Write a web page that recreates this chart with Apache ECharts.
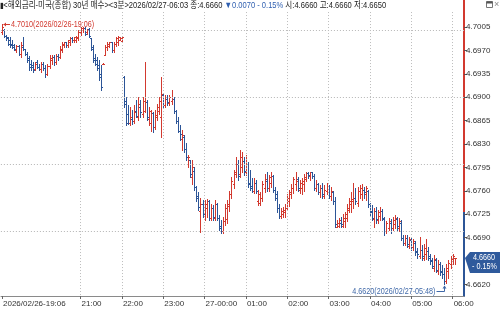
<!DOCTYPE html>
<html><head><meta charset="utf-8">
<script src="https://cdn.jsdelivr.net/npm/echarts@6/dist/echarts.min.js"></script>
<style>html,body{margin:0;padding:0;background:#fff}#c{width:500px;height:314px}</style>
</head><body><div id="c"></div>
<script>
// ---- data (3-minute bars, 2026/02/26 19:06 .. 2026/02/27 06:03) ----
const opens = [
4.6998,4.7000,4.6992,4.6990,4.6985,4.6980,4.6978,4.6970,4.6976,4.6965,
4.6975,4.6972,4.6965,4.6958,4.6950,4.6948,4.6942,4.6952,4.6945,4.6942,
4.6950,4.6943,4.6935,4.6946,4.6956,4.6960,4.6953,4.6962,4.6960,4.6970,
4.6978,4.6982,4.6978,4.6982,4.6988,4.6985,4.6985,4.6988,4.6998,4.7000,
4.7004,4.6998,4.7002,4.6988,4.6975,4.6958,4.6955,4.6948,4.6935,4.6950,
4.6963,4.6975,4.6976,4.6982,4.6970,4.6980,4.6983,4.6986,4.6984,4.6930,
4.6895,4.6875,4.6862,4.6868,4.6865,4.6880,4.6870,4.6885,4.6875,4.6880,
4.6893,4.6868,4.6862,4.6876,4.6855,4.6870,4.6880,4.6870,4.6903,4.6888,
4.6898,4.6892,4.6895,4.6898,4.6880,4.6865,4.6850,4.6838,4.6840,4.6822,
4.6800,4.6806,4.6780,4.6790,4.6766,4.6752,4.6730,4.6740,4.6722,4.6735,
4.6745,4.6720,4.6735,4.6720,4.6740,4.6720,4.6708,4.6700,4.6715,4.6718,
4.6738,4.6755,4.6770,4.6785,4.6800,4.6785,4.6795,4.6805,4.6788,4.6800,
4.6772,4.6768,4.6760,4.6772,4.6745,4.6742,4.6750,4.6765,4.6775,4.6765,
4.6772,4.6782,4.6762,4.6755,4.6735,4.6722,4.6725,4.6728,4.6735,4.6745,
4.6755,4.6765,4.6770,4.6778,4.6762,4.6765,4.6770,4.6778,4.6786,4.6782,
4.6788,4.6782,4.6765,4.6770,4.6758,4.6765,4.6752,4.6760,4.6768,4.6752,
4.6758,4.6745,4.6706,4.6708,4.6712,4.6708,4.6715,4.6720,4.6732,4.6740,
4.6745,4.6750,4.6742,4.6760,4.6755,4.6762,4.6755,4.6760,4.6740,4.6730,
4.6718,4.6730,4.6716,4.6722,4.6730,4.6718,4.6700,4.6705,4.6712,4.6705,
4.6710,4.6718,4.6705,4.6712,4.6690,4.6682,4.6690,4.6678,4.6686,4.6676,
4.6682,4.6670,4.6662,4.6672,4.6660,4.6665,4.6670,4.6662,4.6656,4.6645,
4.6656,4.6640,4.6650,4.6640,4.6635,4.6625,4.6640,4.6650,4.6655,4.6660];
const highs = [
4.7010,4.7002,4.6993,4.6990,4.6990,4.6985,4.6980,4.6978,4.6978,4.6983,
4.6990,4.6972,4.6968,4.6962,4.6955,4.6953,4.6953,4.6956,4.6950,4.6953,
4.6953,4.6948,4.6950,4.6963,4.6963,4.6963,4.6965,4.6965,4.6976,4.6983,
4.6983,4.6983,4.6986,4.6990,4.6990,4.6990,4.6992,4.7001,4.7005,4.7005,
4.7005,4.7002,4.7003,4.6988,4.6978,4.6965,4.6960,4.6955,4.6948,4.6951,
4.6978,4.6983,4.6983,4.6983,4.6983,4.6990,4.6992,4.6990,4.6992,4.6932,
4.6900,4.6888,4.6885,4.6881,4.6888,4.6896,4.6900,4.6896,4.6900,4.6953,
4.6896,4.6885,4.6881,4.6878,4.6881,4.6890,4.6900,4.6930,4.6905,4.6903,
4.6903,4.6903,4.6911,4.6900,4.6881,4.6870,4.6858,4.6851,4.6843,4.6831,
4.6814,4.6806,4.6806,4.6795,4.6768,4.6758,4.6749,4.6746,4.6746,4.6748,
4.6746,4.6740,4.6739,4.6746,4.6742,4.6724,4.6716,4.6721,4.6740,4.6746,
4.6760,4.6780,4.6791,4.6810,4.6806,4.6821,4.6818,4.6810,4.6814,4.6803,
4.6791,4.6779,4.6779,4.6776,4.6761,4.6758,4.6775,4.6785,4.6788,4.6784,
4.6788,4.6784,4.6766,4.6760,4.6740,4.6735,4.6736,4.6740,4.6755,4.6761,
4.6770,4.6781,4.6788,4.6780,4.6776,4.6779,4.6785,4.6788,4.6788,4.6788,
4.6788,4.6785,4.6776,4.6772,4.6769,4.6772,4.6769,4.6772,4.6769,4.6766,
4.6760,4.6751,4.6716,4.6719,4.6721,4.6725,4.6728,4.6740,4.6750,4.6758,
4.6772,4.6765,4.6766,4.6769,4.6770,4.6766,4.6768,4.6762,4.6742,4.6739,
4.6735,4.6736,4.6731,4.6736,4.6733,4.6721,4.6715,4.6719,4.6718,4.6721,
4.6724,4.6721,4.6719,4.6716,4.6694,4.6694,4.6694,4.6691,4.6690,4.6688,
4.6685,4.6675,4.6691,4.6679,4.6680,4.6688,4.6676,4.6665,4.6660,4.6664,
4.6660,4.6656,4.6653,4.6649,4.6645,4.6650,4.6656,4.6662,4.6665,4.6660];
const lows = [
4.6995,4.6990,4.6985,4.6978,4.6975,4.6973,4.6970,4.6968,4.6963,4.6960,
4.6970,4.6963,4.6953,4.6941,4.6941,4.6938,4.6940,4.6943,4.6940,4.6938,
4.6941,4.6930,4.6933,4.6943,4.6950,4.6948,4.6950,4.6956,4.6958,4.6968,
4.6975,4.6975,4.6975,4.6978,4.6982,4.6983,4.6983,4.6986,4.6993,4.6998,
4.6993,4.6995,4.6990,4.6970,4.6953,4.6948,4.6941,4.6926,4.6911,4.6949,
4.6963,4.6970,4.6975,4.6968,4.6968,4.6976,4.6978,4.6985,4.6983,4.6885,
4.6858,4.6860,4.6858,4.6860,4.6862,4.6870,4.6866,4.6870,4.6870,4.6878,
4.6866,4.6858,4.6850,4.6848,4.6853,4.6866,4.6875,4.6840,4.6885,4.6885,
4.6888,4.6888,4.6890,4.6876,4.6861,4.6848,4.6836,4.6821,4.6818,4.6806,
4.6796,4.6781,4.6770,4.6761,4.6745,4.6731,4.6698,4.6721,4.6716,4.6721,
4.6716,4.6716,4.6716,4.6716,4.6716,4.6701,4.6697,4.6697,4.6709,4.6712,
4.6730,4.6750,4.6765,4.6780,4.6776,4.6780,4.6788,4.6784,4.6784,4.6766,
4.6761,4.6758,4.6757,4.6757,4.6739,4.6739,4.6745,4.6758,4.6760,4.6760,
4.6766,4.6758,4.6746,4.6728,4.6719,4.6719,4.6721,4.6721,4.6733,4.6738,
4.6750,4.6757,4.6762,4.6760,4.6757,4.6755,4.6760,4.6775,4.6779,4.6776,
4.6779,4.6761,4.6760,4.6755,4.6751,4.6749,4.6749,4.6755,4.6749,4.6746,
4.6740,4.6706,4.6706,4.6706,4.6706,4.6706,4.6706,4.6715,4.6728,4.6728,
4.6735,4.6740,4.6738,4.6750,4.6746,4.6750,4.6746,4.6736,4.6724,4.6716,
4.6706,4.6712,4.6712,4.6716,4.6716,4.6694,4.6697,4.6701,4.6697,4.6701,
4.6704,4.6701,4.6700,4.6686,4.6679,4.6679,4.6676,4.6674,4.6672,4.6672,
4.6664,4.6660,4.6660,4.6656,4.6656,4.6658,4.6656,4.6651,4.6645,4.6640,
4.6638,4.6636,4.6634,4.6630,4.6620,4.6622,4.6630,4.6645,4.6650,4.6650];
const closes = [
4.7005,4.6992,4.6988,4.6980,4.6978,4.6975,4.6972,4.6976,4.6965,4.6978,
4.6972,4.6965,4.6955,4.6945,4.6945,4.6940,4.6950,4.6945,4.6942,4.6950,
4.6943,4.6935,4.6946,4.6958,4.6960,4.6953,4.6962,4.6960,4.6972,4.6980,
4.6982,4.6978,4.6985,4.6988,4.6985,4.6990,4.6990,4.6998,4.7003,4.7004,
4.6995,4.7000,4.6992,4.6972,4.6955,4.6950,4.6943,4.6930,4.6915,4.6950,
4.6975,4.6980,4.6982,4.6970,4.6980,4.6988,4.6990,4.6988,4.6990,4.6890,
4.6862,4.6862,4.6870,4.6865,4.6878,4.6872,4.6890,4.6878,4.6895,4.6893,
4.6870,4.6880,4.6876,4.6855,4.6873,4.6885,4.6895,4.6905,4.6888,4.6900,
4.6893,4.6900,4.6898,4.6880,4.6865,4.6850,4.6845,4.6843,4.6822,4.6810,
4.6810,4.6785,4.6796,4.6766,4.6750,4.6736,4.6740,4.6725,4.6740,4.6745,
4.6720,4.6735,4.6721,4.6740,4.6720,4.6705,4.6700,4.6715,4.6735,4.6740,
4.6755,4.6775,4.6788,4.6800,4.6782,4.6810,4.6805,4.6790,4.6800,4.6770,
4.6765,4.6760,4.6772,4.6760,4.6755,4.6750,4.6770,4.6778,4.6765,4.6780,
4.6782,4.6762,4.6750,4.6735,4.6722,4.6730,4.6732,4.6735,4.6750,4.6758,
4.6765,4.6778,4.6775,4.6765,4.6772,4.6775,4.6780,4.6786,4.6783,4.6788,
4.6782,4.6765,4.6770,4.6758,4.6765,4.6755,4.6762,4.6768,4.6752,4.6760,
4.6745,4.6710,4.6712,4.6716,4.6710,4.6720,4.6725,4.6735,4.6745,4.6748,
4.6750,4.6745,4.6760,4.6765,4.6762,4.6758,4.6765,4.6740,4.6728,4.6720,
4.6730,4.6718,4.6728,4.6730,4.6720,4.6700,4.6712,4.6715,4.6705,4.6716,
4.6720,4.6708,4.6715,4.6690,4.6682,4.6690,4.6680,4.6688,4.6676,4.6685,
4.6668,4.6665,4.6672,4.6662,4.6675,4.6670,4.6660,4.6655,4.6648,4.6658,
4.6642,4.6650,4.6638,4.6635,4.6625,4.6645,4.6652,4.6658,4.6662,4.6660];
const prevClose = 4.6730;
const yTicks = [4.7005,4.6970,4.6935,4.6900,4.6865,4.6830,4.6795,4.6760,4.6725,4.6690,4.6655,4.6620];
const yLabelTicks = [4.7005,4.6970,4.6935,4.6900,4.6865,4.6830,4.6795,4.6760,4.6725,4.6690,4.6620];
const xTickTimes  = ['19:06','21:00','22:00','23:00','00:00','01:00','02:00','03:00','04:00','05:00','06:00'];
const xTickLabels = ['2026/02/26-19:06','21:00','22:00','23:00','27-00:00','01:00','02:00','03:00','04:00','05:00','06:00'];
const title = '<해외금리-미국(종합) 30년 매수><3분>';

// ---- categories: 3-minute slots (with a few empty slots on the right) ----
const times = [];
for (let k = 0; k < opens.length + 4; k++) {
  const m = (19 * 60 + 6 + 3 * k) % 1440;
  times.push(String(Math.floor(m / 60)).padStart(2, '0') + ':' + String(m % 60).padStart(2, '0'));
}
const midnightIdx = times.indexOf('00:00');
const dateOf = i => (i >= midnightIdx ? '2026/02/27-' : '2026/02/26-') + times[i];

const RED = '#d2392f', BLUE = '#2c5597';
const NUMF = "'Liberation Sans',Arial,sans-serif";
const HDRF = "'Liberation Sans','Noto Sans CJK KR',sans-serif";
const yMin = 4.66028, yMax = 4.70454, gridTopVal = 4.70274;

const bars = opens.map((o, i) => [i, o, highs[i], lows[i], closes[i]]);
const last = opens.length - 1;
const chg = closes[last] - prevClose;
const pct = chg / prevClose * 100;
const pctTxt = (pct < 0 ? '- ' : '+ ') + Math.abs(pct).toFixed(2) + '%';
const chgTxt = (chg < 0 ? '▼' : '▲') + Math.abs(chg).toFixed(4) + ' ' + pctTxt;

const chart = echarts.init(document.getElementById('c'), null, { renderer: 'canvas' });
const split = (yMax - prevClose) / (yMax - yMin);

function renderItem(params, api) {
  const i = api.value(0);
  const o = api.value(1), h = api.value(2), l = api.value(3), c = api.value(4);
  const ph = api.coord([i, h]), pl = api.coord([i, l]);
  const po = api.coord([i, o]), pc = api.coord([i, c]);
  const x = Math.round(ph[0]) + 0.5;
  const col = c >= o ? RED : BLUE;
  let y1 = Math.round(ph[1]), y2 = Math.round(pl[1]) + 1;
  if (y2 - y1 < 1) { y2 = y1 + 1; }
  const yo = Math.round(po[1]) + 0.5, yc = Math.round(pc[1]) + 0.5;
  return {
    type: 'group',
    children: [
      { type: 'line', shape: { x1: x, y1: y1, x2: x, y2: y2 }, style: { stroke: col, lineWidth: 1 } },
      { type: 'line', shape: { x1: x - 1.5, y1: yo, x2: x, y2: yo }, style: { stroke: col, lineWidth: 1 } },
      { type: 'line', shape: { x1: x, y1: yc, x2: x + 1.5, y2: yc }, style: { stroke: col, lineWidth: 1 } }
    ]
  };
}

chart.setOption({
  animation: false,
  backgroundColor: '#ffffff',
  grid: { left: 0, right: 36, top: 0, bottom: 18 },
  xAxis: {
    type: 'category', data: times, boundaryGap: true,
    axisLine: { show: true, lineStyle: { color: '#8a8a8a', width: 1 } },
    axisTick: { show: true, alignWithLabel: true, length: 3, interval: (i, v) => xTickTimes.includes(v), lineStyle: { color: '#666' } },
    axisLabel: {
      interval: (i, v) => xTickTimes.includes(v),
      formatter: v => xTickLabels[xTickTimes.indexOf(v)],
      align: 'left', margin: 4, padding: [0, 0, 0, 1],
      fontSize: 8, color: '#333', fontFamily: NUMF
    },
    splitLine: { show: false }
  },
  yAxis: {
    type: 'value', position: 'right', min: yMin, max: yMax, scale: true,
    axisLine: { show: true, lineStyle: { width: 2, color: new echarts.graphic.LinearGradient(0, 0, 0, 1, [
      { offset: 0, color: RED }, { offset: split, color: RED }, { offset: split, color: BLUE }, { offset: 1, color: BLUE }]) } },
    axisTick: { show: true, length: 3, customValues: yLabelTicks, lineStyle: { color: '#555' } },
    axisLabel: { customValues: yLabelTicks, formatter: v => v.toFixed(4), margin: 2, fontSize: 8, color: '#333', fontFamily: NUMF },
    splitLine: { show: false }
  },
  series: [
    {
      type: 'line', data: [], z: 0, silent: true,
      markLine: {
        silent: true, symbol: 'none', animation: false,
        label: { show: false },
        lineStyle: { color: '#bdbdbd', type: [1, 2], width: 1 },
        data: yTicks.map(v => ({ yAxis: v })).concat(
          xTickTimes.slice(1).map(t => [{ coord: [t, gridTopVal] }, { coord: [t, yMin] }]))
      }
    },
    {
      type: 'custom', z: 3, renderItem: renderItem, data: bars,
      encode: { x: 0, y: [1, 2, 3, 4] }, clip: true
    }
  ]
});

// ---- annotations placed via the chart's own scales ----
let maxI = 0, minI = 0;
highs.forEach((v, i) => { if (v > highs[maxI]) maxI = i; });
lows.forEach((v, i) => { if (v < lows[minI]) minI = i; });
const pMax = chart.convertToPixel({ gridIndex: 0 }, [maxI, highs[maxI]]);
const pMin = chart.convertToPixel({ gridIndex: 0 }, [minI, lows[minI]]);
const pCur = chart.convertToPixel({ gridIndex: 0 }, [last, closes[last]]);
const rightX = 464;
const maxY = Math.round(pMax[1]) + 0.5;
const minLY = Math.round(pMin[1]) + 7.5;
const mx = Math.round(pMin[0]) + 0.5;
const curY = Math.round(pCur[1]);
const SX = 0.8;

const headerText = '{k|▮}{t|' + title + dateOf(last) + ' 종:' + closes[last].toFixed(4) + ' }{b|' + chgTxt + '}{t| 시:' +
  opens[last].toFixed(4) + ' 고:' + highs[last].toFixed(4) + ' 저:' + lows[last].toFixed(4) + '}';

chart.setOption({
  graphic: [
    { type: 'text', x: 0, y: 5.5, scaleX: 0.84, z: 10,
      style: { text: headerText, textVerticalAlign: 'middle', font: '9px ' + HDRF, fill: '#222',
        rich: {
          k: { fontSize: 8, fill: '#222', fontFamily: HDRF },
          t: { fontSize: 9, fill: '#222', fontFamily: HDRF },
          b: { fontSize: 9, fill: '#2f5fb0', fontFamily: HDRF }
        } } },

    { type: 'line', shape: { x1: pMax[0] + 1.5, y1: maxY, x2: pMax[0] + 8, y2: maxY }, style: { stroke: RED, lineWidth: 1 }, z: 10 },
    { type: 'polygon', shape: { points: [[pMax[0] + 1.5, maxY], [pMax[0] + 4, maxY - 2], [pMax[0] + 4, maxY + 2]] }, style: { fill: RED }, z: 10 },
    { type: 'text', x: pMax[0] + 9, y: maxY, scaleX: SX, style: { text: highs[maxI].toFixed(4) + '(' + dateOf(maxI) + ')', fill: RED, font: '9px ' + NUMF, textVerticalAlign: 'middle', textAlign: 'left' }, z: 10 },

    { type: 'polyline', shape: { points: [[mx - 8, minLY], [mx, minLY], [mx, pMin[1] + 1.5]] }, style: { stroke: '#3f68a8', lineWidth: 1, fill: null }, z: 10 },
    { type: 'polygon', shape: { points: [[mx, pMin[1] + 1], [mx - 2, pMin[1] + 4], [mx + 2, pMin[1] + 4]] }, style: { fill: '#3f68a8' }, z: 10 },
    { type: 'text', x: mx - 9, y: minLY, scaleX: SX, style: { text: lows[minI].toFixed(4) + '(' + dateOf(minI) + ')', fill: '#3f68a8', font: '9px ' + NUMF, textVerticalAlign: 'middle', textAlign: 'right' }, z: 10 },

    { type: 'polygon', shape: { points: [[rightX + 1, curY], [rightX + 6, curY - 6], [500, curY - 6], [500, curY + 15], [rightX + 6, curY + 15]] }, style: { fill: '#2f5a9c' }, z: 20 },
    { type: 'text', x: rightX + 9, y: curY - 0.5, scaleX: SX, style: { text: closes[last].toFixed(4), fill: '#fff', font: '9px ' + NUMF, textVerticalAlign: 'middle' }, z: 21 },
    { type: 'text', x: rightX + 8, y: curY + 9, scaleX: SX, style: { text: pctTxt, fill: '#fff', font: '9px ' + NUMF, textVerticalAlign: 'middle' }, z: 21 },

    { type: 'rect', shape: { x: 486.5, y: 1.5, width: 6, height: 6 }, style: { fill: '#fff', stroke: '#777', lineWidth: 1 }, z: 10 },
    { type: 'line', shape: { x1: 486.5, y1: 2.5, x2: 492.5, y2: 2.5 }, style: { stroke: '#555', lineWidth: 2 }, z: 10 },
    { type: 'text', x: 494, y: 4.5, style: { text: '×', fill: '#888', font: '9px ' + NUMF, textVerticalAlign: 'middle' }, z: 10 }
  ]
});
</script></body></html>
